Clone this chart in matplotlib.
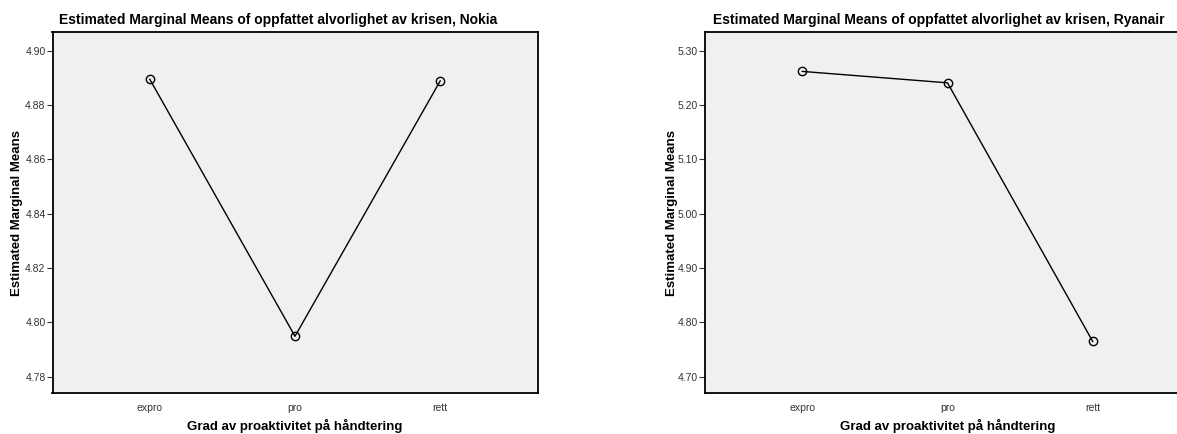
import matplotlib
matplotlib.use("Agg")
import matplotlib.pyplot as plt

categories = ["expro", "pro", "rett"]
nokia_means = [4.8895, 4.7949, 4.8889]
ryanair_means = [5.262, 5.241, 4.765]
nokia_ticks = [4.78, 4.80, 4.82, 4.84, 4.86, 4.88, 4.90]
ryanair_ticks = [4.70, 4.80, 4.90, 5.00, 5.10, 5.20, 5.30]

plt.rcParams['font.family'] = ['Liberation Sans', 'DejaVu Sans']

W, H = 1177, 434
fig = plt.figure(figsize=(W / 100, H / 100), dpi=100)

def px_axes(x0, y0, x1, y1):
    return fig.add_axes([x0 / W, 1 - y1 / H, (x1 - x0) / W, (y1 - y0) / H])

panels = [
    dict(box=(52.5, 32.3, 537.5, 393.3), vals=nokia_means, ticks=nokia_ticks,
         ylim=(4.7739, 4.9068), title="Estimated Marginal Means of oppfattet alvorlighet av krisen, Nokia",
         title_x=278, ylab_x=17),
    dict(box=(705, 32.3, 1190, 393.3), vals=ryanair_means, ticks=ryanair_ticks,
         ylim=(4.6695, 5.334), title="Estimated Marginal Means of oppfattet alvorlighet av krisen, Ryanair",
         title_x=938.5, ylab_x=672),
]

x = list(range(len(categories)))
for p in panels:
    ax = px_axes(*p["box"])
    ax.set_facecolor("#F0F0F0")
    ax.plot(x, p["vals"], color="black", linewidth=1.0, marker="o", markersize=6,
            markerfacecolor="none", markeredgecolor="black", markeredgewidth=1.0)
    ax.set_xlim(-0.67, 2.67)
    ax.set_ylim(*p["ylim"])
    ax.set_xticks(x)
    ax.set_xticklabels(categories)
    ax.set_yticks(p["ticks"])
    ax.set_yticklabels([f"{t:.2f}" for t in p["ticks"]])
    ax.tick_params(axis="y", direction="out", length=4, width=0.8, pad=1,
                   labelsize=7.5, labelcolor="#333333", color="#333333")
    ax.tick_params(axis="x", length=0, pad=7, labelsize=7.5, labelcolor="#333333")
    for s in ["left", "bottom", "top", "right"]:
        ax.spines[s].set_linewidth(1.3)
        ax.spines[s].set_color("black")
    fig.text(p["title_x"] / W, 1 - 20 / H, p["title"], ha="center", va="center",
             fontsize=10, fontweight="bold")
    cx = (p["box"][0] + p["box"][0] + 485) / 2
    fig.text(cx / W, 1 - 426 / H, "Grad av proaktivitet på håndtering", ha="center",
             va="center", fontsize=9.5, fontweight="bold")
    fig.text(p["ylab_x"] / W, 1 - 213 / H, "Estimated Marginal Means", ha="center",
             va="center", rotation=90, fontsize=9.5, fontweight="bold")

fig.savefig("out.png", dpi=100)
